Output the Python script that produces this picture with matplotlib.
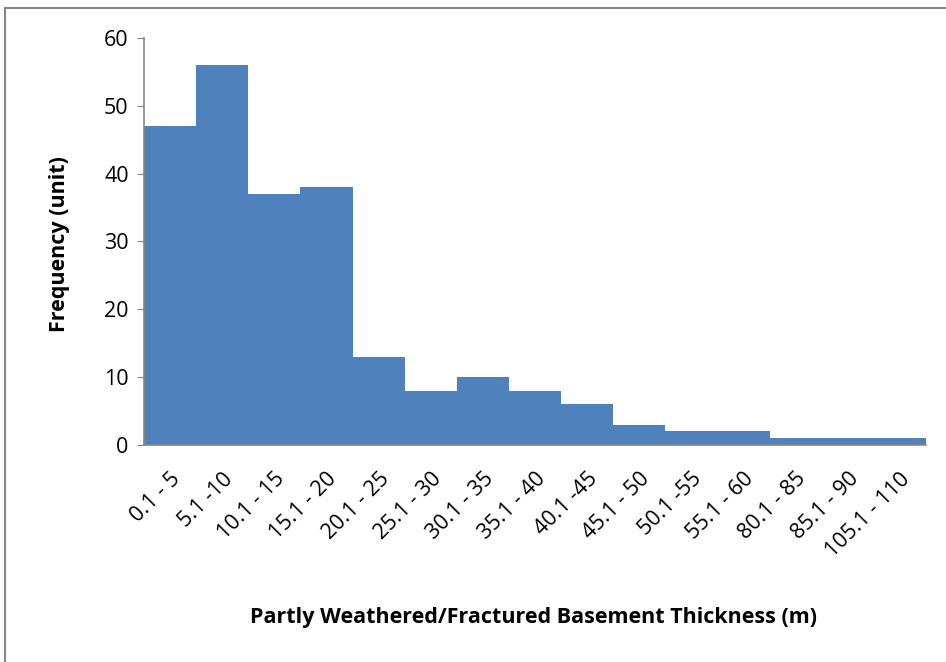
import matplotlib.pyplot as plt
from matplotlib.patches import Rectangle

plt.rcParams['font.family'] = ['Open Sans', 'DejaVu Sans']

categories = ["0.1 - 5", "5.1 -10", "10.1 - 15", "15.1 - 20", "20.1 - 25",
              "25.1 - 30", "30.1 - 35", "35.1 - 40", "40.1 -45", "45.1 - 50",
              "50.1 -55", "55.1 - 60", "80.1 - 85", "85.1 - 90", "105.1 - 110"]
frequency = [47, 56, 37, 38, 13, 8, 10, 8, 6, 3, 2, 2, 1, 1, 1]
y_ticks = [0, 10, 20, 30, 40, 50, 60]

fig = plt.figure(figsize=(9.46, 6.62), dpi=100)
ax = fig.add_axes([0.1522, 0.3278, 0.8266, 0.6148])

x = range(len(categories))
ax.bar(x, frequency, width=1.0, color="#4F81BD", edgecolor="#4F81BD", linewidth=0)

ax.set_xlim(-0.5, len(categories) - 0.5)
ax.set_ylim(0, 60)
ax.set_yticks(y_ticks)
ax.set_xticks(list(x))
ax.set_xticklabels(categories, rotation=45, ha="right", rotation_mode="anchor", fontsize=15.5)
ax.tick_params(axis="y", labelsize=15.5, length=5, color="#868686", pad=6)
ax.tick_params(axis="x", length=0, pad=17)

for s in ["top", "right"]:
    ax.spines[s].set_visible(False)
for s in ["left", "bottom"]:
    ax.spines[s].set_color("#868686")
    ax.spines[s].set_linewidth(1.2)

fig.text(60 / 946, 1 - 244 / 662, "Frequency (unit)", rotation=90,
         ha="center", va="center", fontsize=15.5, fontweight="bold")
fig.text(534 / 946, 1 - 617 / 662, "Partly Weathered/Fractured Basement Thickness (m)",
         ha="center", va="center", fontsize=15.5, fontweight="bold")

# outer chart frame
frame = Rectangle((5 / 946, -0.1), 1.2, 1.1 - 8 / 662, transform=fig.transFigure,
                  fill=False, edgecolor="#868686", linewidth=1.5)
fig.patches.append(frame)

fig.savefig("out.png", dpi=100)
